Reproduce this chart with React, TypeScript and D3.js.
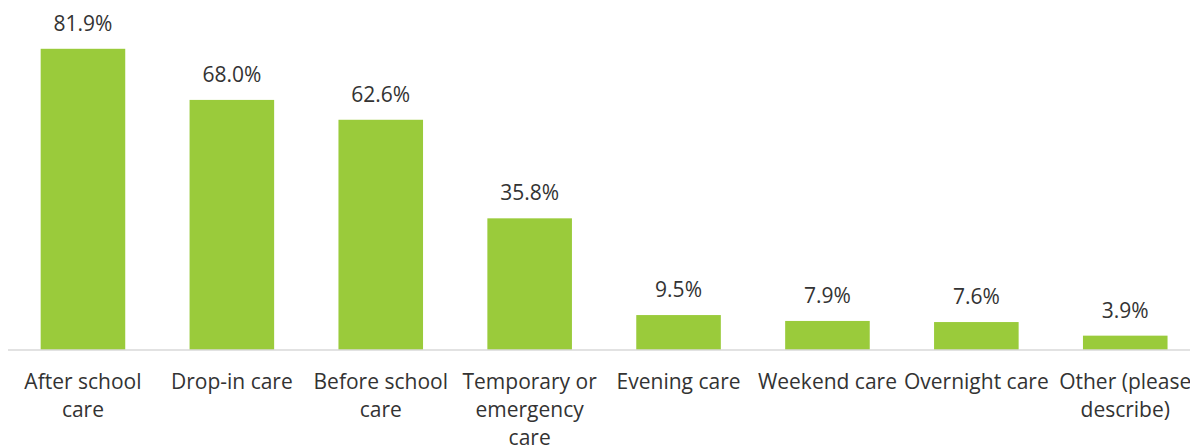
import React from "react";
import * as d3 from "d3";

const categories = [
  "After school care",
  "Drop-in care",
  "Before school care",
  "Temporary or emergency care",
  "Evening care",
  "Weekend care",
  "Overnight care",
  "Other (please describe)",
];

// wrapped tick labels, as they break in the original
const tickLines = [
  ["After school", "care"],
  ["Drop-in care"],
  ["Before school", "care"],
  ["Temporary or", "emergency", "care"],
  ["Evening care"],
  ["Weekend care"],
  ["Overnight care"],
  ["Other (please", "describe)"],
];

const values = [81.9, 68.0, 62.6, 35.8, 9.5, 7.9, 7.6, 3.9];

const width = 1190;
const height = 445;
const baseline = 350;
const font = "'Open Sans', 'Noto Sans', sans-serif";
const textColor = "#333333";

export default function App() {
  const x = d3
    .scaleBand<string>()
    .domain(categories)
    .range([8.5, 1199.7])
    .paddingInner(0.432)
    .paddingOuter(0.216);

  const y = d3.scaleLinear().domain([0, 90]).range([baseline, 19]);

  return (
    <svg
      width={width}
      height={height}
      style={{ position: "absolute", left: 0, top: 0, background: "#fff" }}
    >
      {/* Bars */}
      <g>
        {categories.map((c, i) => (
          <rect
            key={c}
            x={x(c)}
            y={y(values[i])}
            width={x.bandwidth()}
            height={baseline - y(values[i])}
            fill="#9acb3b"
          />
        ))}
      </g>

      {/* Axis line */}
      <line
        x1={8}
        x2={width}
        y1={baseline}
        y2={baseline}
        stroke="#d9d9d9"
        strokeWidth={1.5}
      />

      {/* Value labels */}
      <g fontFamily={font} fontSize={21} fill={textColor} textAnchor="middle">
        {categories.map((c, i) => (
          <text key={c} x={(x(c) ?? 0) + x.bandwidth() / 2} y={y(values[i]) - 18}>
            {values[i].toFixed(1)}%
          </text>
        ))}
      </g>

      {/* Category labels */}
      <g fontFamily={font} fontSize={21} fill={textColor} textAnchor="middle">
        {categories.map((c, i) => (
          <text key={c} x={(x(c) ?? 0) + x.bandwidth() / 2} y={389}>
            {tickLines[i].map((line, j) => (
              <tspan key={j} x={(x(c) ?? 0) + x.bandwidth() / 2} dy={j === 0 ? 0 : 28}>
                {line}
              </tspan>
            ))}
          </text>
        ))}
      </g>
    </svg>
  );
}
